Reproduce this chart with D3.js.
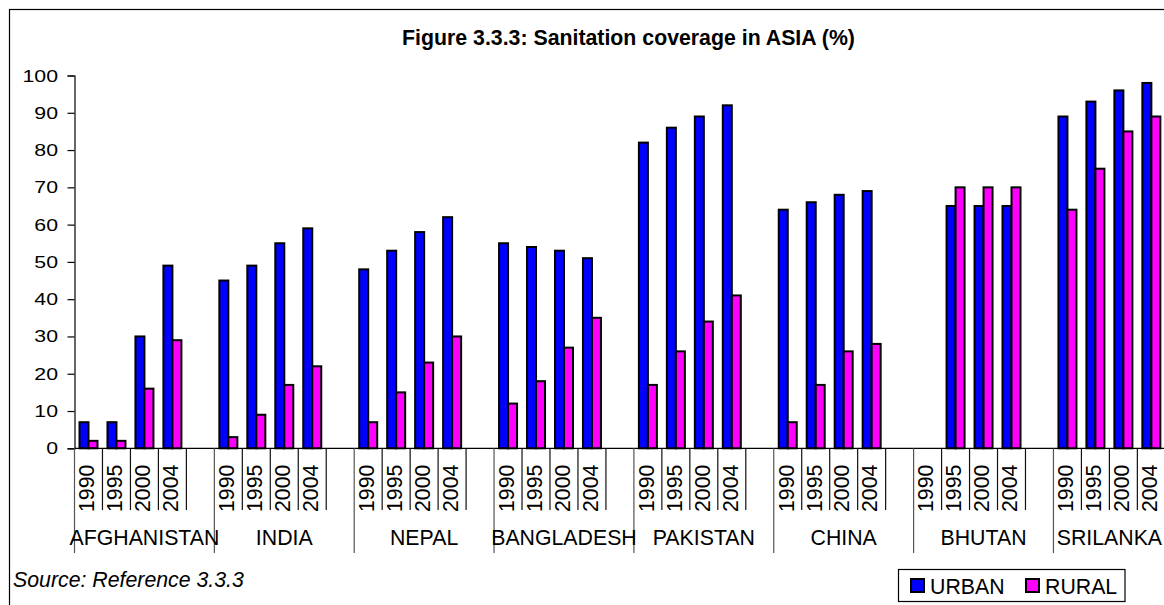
<!DOCTYPE html>
<html>
<head>
<meta charset="utf-8">
<script src="https://cdn.jsdelivr.net/npm/d3@7"></script>
<style>
  html, body { margin: 0; padding: 0; background: #fff; }
  svg { display: block; font-family: "Liberation Sans", Arial, sans-serif; }
</style>
</head>
<body>
<svg id="chart" width="1164" height="605"></svg>
<script>
// ---- data ----
const countries = ["AFGHANISTAN", "INDIA", "NEPAL", "BANGLADESH", "PAKISTAN", "CHINA", "BHUTAN", "SRILANKA"];
const years = ["1990", "1995", "2000", "2004"];
const seriesNames = ["URBAN", "RURAL"];
const urban = [
  [7, 7, 30, 49],
  [45, 49, 55, 59],
  [48, 53, 58, 62],
  [55, 54, 53, 51],
  [82, 86, 89, 92],
  [64, 66, 68, 69],
  [null, 65, 65, 65],
  [89, 93, 96, 98]
];
const rural = [
  [2, 2, 16, 29],
  [3, 9, 17, 22],
  [7, 15, 23, 30],
  [12, 18, 27, 35],
  [17, 26, 34, 41],
  [7, 17, 26, 28],
  [null, 70, 70, 70],
  [64, 75, 85, 89]
];
const yTicks = [0, 10, 20, 30, 40, 50, 60, 70, 80, 90, 100];
const colors = ["#0000FF", "#FF00FF"];
const titleText = "Figure 3.3.3: Sanitation coverage in ASIA (%)";
const sourceText = "Source: Reference 3.3.3";

// ---- slots: 4 years + 1 empty slot per country (last country without the empty slot) ----
const slots = [];
countries.forEach((c, ci) => {
  years.forEach((y, yi) => slots.push({ id: c + "|" + y, country: c, ci, year: y, yi, empty: false }));
  if (ci < countries.length - 1) slots.push({ id: c + "|gap", country: c, ci, year: "", yi: -1, empty: true });
});

const svg = d3.select("#chart");
const FS = 21.3;

const x0 = 74.5, slotW = 27.97;
const x = d3.scaleBand().domain(slots.map(s => s.id)).range([x0, x0 + slots.length * slotW]).padding(0);
const xs = d3.scaleBand().domain(seriesNames).range([5, 23]).padding(0);
const y = d3.scaleLinear().domain([0, 100]).range([448.3, 75.5]);

// border
svg.append("rect").attr("x", 9.5).attr("y", 9.5).attr("width", 1200).attr("height", 700)
  .attr("fill", "#fff").attr("stroke", "#000").attr("stroke-width", 1.2);

// title
svg.append("text").attr("x", 628.5).attr("y", 45).attr("text-anchor", "middle")
  .attr("font-weight", "bold").attr("font-size", FS).text(titleText);

// bars
const barData = [];
slots.filter(s => !s.empty).forEach(s => {
  [urban, rural].forEach((arr, si) => {
    const v = arr[s.ci][s.yi];
    if (v != null) barData.push({ slot: s.id, series: seriesNames[si], si, v });
  });
});
svg.append("g").selectAll("rect").data(barData).join("rect")
  .attr("x", d => x(d.slot) + xs(d.series))
  .attr("width", xs.bandwidth())
  .attr("y", d => y(d.v))
  .attr("height", d => y(0) - y(d.v))
  .attr("fill", d => colors[d.si])
  .attr("stroke", "#000").attr("stroke-width", 2);

// y axis
const yAxis = d3.axisLeft(y).tickValues(yTicks).tickSize(7).tickFormat("");
const gy = svg.append("g").attr("transform", `translate(${x0},0)`).call(yAxis);
gy.select(".domain").attr("stroke", "#000").attr("stroke-width", 1.2);
gy.selectAll(".tick line").attr("stroke", "#000").attr("stroke-width", 1.2);
svg.append("g").selectAll("text").data(yTicks).join("text")
  .attr("transform", d => `translate(58,${y(d) + 6}) scale(1,0.8)`)
  .attr("text-anchor", "end").attr("font-size", FS).attr("fill", "#000")
  .text(d => d);

// x axis line
svg.append("line").attr("x1", x0).attr("x2", x.range()[1]).attr("y1", y(0)).attr("y2", y(0))
  .attr("stroke", "#000").attr("stroke-width", 1.2);

// slot boundary ticks
const boundaries = slots.map((s, i) => ({ pos: x(s.id), groupStart: i === 0 || slots[i - 1].ci !== s.ci }));
boundaries.push({ pos: x.range()[1], groupStart: true });
svg.append("g").selectAll("line").data(boundaries).join("line")
  .attr("x1", d => d.pos).attr("x2", d => d.pos)
  .attr("y1", y(0)).attr("y2", d => d.groupStart ? 553 : 510)
  .attr("stroke", d => d.groupStart ? "#555" : "#111").attr("stroke-width", 1.2);

// year labels (rotated)
svg.append("g").selectAll("text").data(slots.filter(s => !s.empty)).join("text")
  .attr("transform", d => `translate(${x(d.id) + x.bandwidth() / 2 + 5.8},512) rotate(-90)`)
  .attr("text-anchor", "start").attr("font-size", FS).attr("fill", "#000")
  .text(d => d.year);

// country labels
const groupExtents = countries.map((c, ci) => {
  const ss = slots.filter(s => s.ci === ci);
  return { c, x1: x(ss[0].id), x2: x(ss[ss.length - 1].id) + x.bandwidth() };
});
svg.append("g").selectAll("text").data(groupExtents).join("text")
  .attr("x", d => (d.x1 + d.x2) / 2).attr("y", 545)
  .attr("text-anchor", "middle").attr("font-size", FS).attr("fill", "#000")
  .text(d => d.c);

// source
svg.append("text").attr("x", 13).attr("y", 587).attr("font-style", "italic")
  .attr("font-size", FS).text(sourceText);

// legend
const lg = svg.append("g");
lg.append("rect").attr("x", 898.5).attr("y", 569.5).attr("width", 226.5).attr("height", 32)
  .attr("fill", "#fff").attr("stroke", "#000").attr("stroke-width", 1.2);
const legendX = [911, 1026];
const li = lg.selectAll("g.item").data(seriesNames).join("g").attr("class", "item")
  .attr("transform", (d, i) => `translate(${legendX[i]},579)`);
li.append("rect").attr("width", 13).attr("height", 13)
  .attr("fill", (d, i) => colors[i]).attr("stroke", "#000").attr("stroke-width", 2);
li.append("text").attr("x", 19).attr("y", 14.5).attr("font-size", FS).text(d => d);
</script>
</body>
</html>
